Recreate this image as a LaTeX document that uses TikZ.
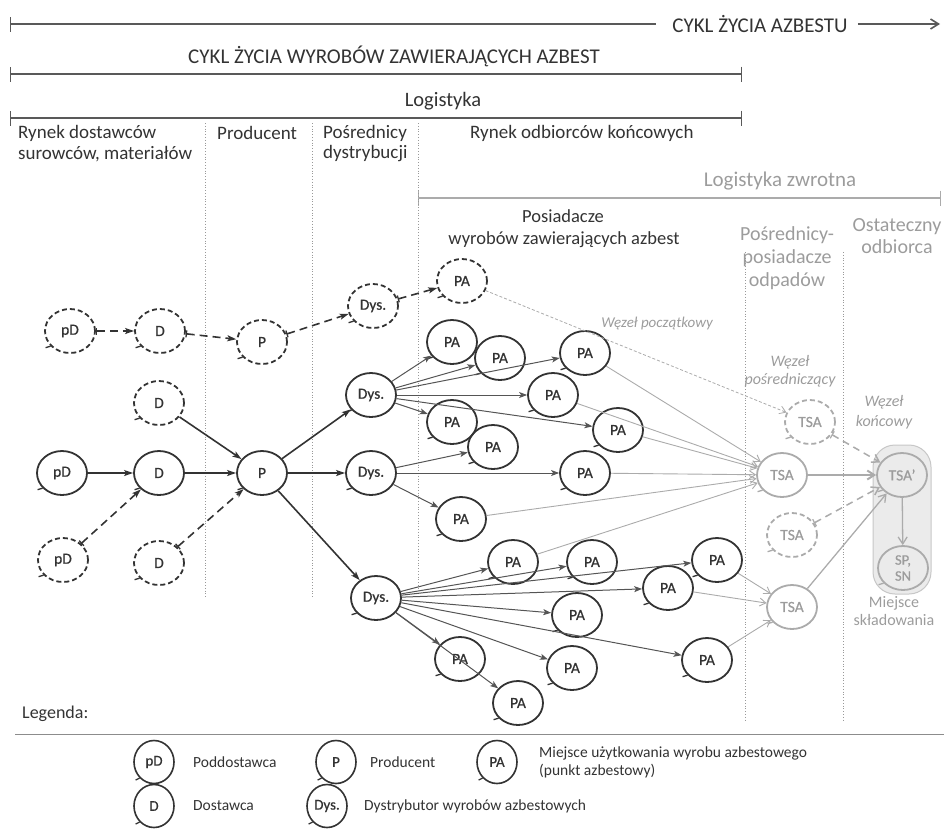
\documentclass[tikz,border=0pt]{standalone}
\usepackage{fontspec}
\setmainfont{Carlito}
\newfontfamily\nodefont{Carlito}[FakeBold=0.6]
\usetikzlibrary{arrows.meta,shapes.geometric}
\definecolor{ink}{HTML}{333333}
\definecolor{edgec}{HTML}{555555}
\definecolor{pale}{HTML}{ABABAB}
\definecolor{paletext}{HTML}{9C9C9C}
\begin{document}
\begin{tikzpicture}[x=1pt,y=-1pt,
  every node/.style={text=ink},
  nd/.style={ellipse,draw=ink,line width=1.8pt,minimum width=50pt,minimum height=44pt,inner sep=0pt,font=\nodefont\fontsize{15.5}{16}\selectfont},
  ndd/.style={nd,dash pattern=on 5pt off 3pt},
  gnd/.style={nd,draw=pale,text=paletext},
  gndd/.style={gnd,dash pattern=on 5pt off 3pt},
  lnd/.style={nd,line width=1.6pt,minimum width=40pt,minimum height=43pt,font=\nodefont\fontsize{15}{15}\selectfont},
  hdr/.style={anchor=west,font=\fontsize{19}{21}\selectfont,inner sep=0pt},
  ttl/.style={font=\fontsize{21}{23}\selectfont,inner sep=0pt},
  gtxt/.style={text=paletext,font=\fontsize{20}{23}\selectfont,inner sep=0pt,align=center},
  wz/.style={text=paletext,font=\fontsize{15}{18}\itshape,inner sep=0pt,align=center},
  lgt/.style={anchor=west,font=\fontsize{15.5}{18}\selectfont,inner sep=0pt,align=left},
  span/.style={draw=black!65,line width=2.2pt,{Bar[width=15pt,line width=1.4pt]}-{Bar[width=15pt,line width=1.4pt]}},
  sep/.style={draw=black!40,line width=0.8pt,dotted},
  thick/.style={draw=ink,line width=1.6pt,-{Stealth[length=9pt,width=6pt,inset=2pt]}},
  thickd/.style={thick,dash pattern=on 8pt off 5pt,{Bar[width=7pt,line width=1.3pt]}-{Stealth[length=9pt,width=6pt,inset=2pt]}},
  mid/.style={draw=edgec,line width=1pt,-{Stealth[length=8pt,width=6pt,inset=2pt]}},
  light/.style={draw=pale,line width=0.9pt,-{Straight Barb[length=6pt,width=8pt]}},
  gthick/.style={draw=pale,line width=2pt,-{Straight Barb[length=7pt,width=9pt]}},
  gthin/.style={draw=pale,line width=1.3pt,-{Straight Barb[length=7pt,width=9pt]}},
  gdash/.style={draw=pale,line width=1.5pt,dash pattern=on 7pt off 5pt,{Bar[width=8pt,line width=1.2pt]}-{Straight Barb[length=7pt,width=9pt]}},
  gdot/.style={draw=pale,line width=0.8pt,dash pattern=on 3pt off 2pt,-{Straight Barb[length=6pt,width=8pt]}}
]
\useasboundingbox (0,0) rectangle (944,830);

% ---- life-cycle spans ----
\draw[draw=black!65,line width=2.2pt,{Bar[width=15pt,line width=1.4pt]}-] (10,24) -- (656,24);
\node[ttl] (cyklA) at (760,24) {CYKL ŻYCIA AZBESTU};
\draw[draw=black!65,line width=1.6pt,-{Straight Barb[length=8pt,width=10pt]}] (cyklA.east) ++(10,0) coordinate (ca) -- (940,24);
\node[ttl] (cyklW) at (394,56) {CYKL ŻYCIA WYROBÓW ZAWIERAJĄCYCH AZBEST};
\draw[span] (10,74) -- (742,74);
\node[ttl,font=\fontsize{20.5}{23}\selectfont] (logi) at (443,101) {Logistyka};
\draw[span] (10,118) -- (742,118);

% ---- column headers ----
\node[hdr] (h1a) at (18,133) {Rynek dostawców};
\node[hdr] (h1b) at (18,154) {surowców, materiałów};
\node[hdr] (h2) at (217,133) {Producent};
\node[hdr] (h3a) at (323,133) {Pośrednicy};
\node[hdr] (h3b) at (323,154) {dystrybucji};
\node[hdr] (h4) at (470,133) {Rynek odbiorców końcowych};

\node[gtxt,font=\fontsize{21}{23}\selectfont] (lz) at (780,181) {Logistyka zwrotna};
\draw[draw=pale,line width=2pt,{Bar[width=15pt,line width=1.4pt]}-{Bar[width=15pt,line width=1.4pt]}] (418,198) -- (941,198);

\node[hdr,anchor=center,font=\fontsize{18.5}{21}\selectfont] (pos1) at (563,216) {Posiadacze};
\node[hdr,anchor=center,font=\fontsize{18.5}{21}\selectfont] (pos2) at (564,240) {wyrobów zawierających azbest};
\node[gtxt] (pp) at (787,258) {Pośrednicy-\\posiadacze\\odpadów};
\node[gtxt,font=\fontsize{20}{22}\selectfont] (oo) at (897,236) {Ostateczny\\odbiorca};

% ---- separators ----
\draw[sep] (205,123) -- (205,597);
\draw[sep] (312,123) -- (312,597);
\draw[sep] (418,123) -- (418,590);
\draw[sep] (745,252) -- (745,720);
\draw[sep] (843,252) -- (843,720);

% ---- storage area ----
\draw[draw=black!22,fill=black!8,line width=1pt,rounded corners=22pt] (873,445) rectangle (931,594);

% ---- supply chain nodes ----
\node[ndd] (pDt) at (70,331) {pD};
\node[ndd] (Dt) at (160,331) {D};
\node[ndd] (Pt) at (262,342) {P};
\node[ndd] (Dyst) at (373,306) {Dys.};
\node[ndd] (PAt) at (462,281) {PA};
\node[ndd] (Dm) at (159,403) {D};
\node[nd] (pD) at (62,473) {pD};
\node[nd] (D) at (159,473) {D};
\node[nd] (P) at (262,473) {P};
\node[ndd] (pDb) at (63,560) {pD};
\node[ndd] (Db) at (159,563) {D};
\node[nd] (Dy1) at (371,395) {Dys.};
\node[nd] (Dy2) at (371,473) {Dys.};
\node[nd] (Dy3) at (376,598) {Dys.};

% ---- points of use ----
\node[nd] (a) at (452,342) {PA};
\node[nd] (b) at (500,358) {PA};
\node[nd] (c) at (585,353) {PA};
\node[nd] (d) at (553,395) {PA};
\node[nd] (e) at (452,422) {PA};
\node[nd] (f) at (618,430) {PA};
\node[nd] (g) at (493,447) {PA};
\node[nd] (h) at (585,473) {PA};
\node[nd] (i) at (461,519) {PA};
\node[nd] (k) at (513,562) {PA};
\node[nd] (l) at (592,562) {PA};
\node[nd] (m) at (717,560) {PA};
\node[nd] (n) at (668,588) {PA};
\node[nd] (o) at (577,615) {PA};
\node[nd] (p) at (460,659) {PA};
\node[nd] (q) at (572,668) {PA};
\node[nd] (r) at (707,660) {PA};
\node[nd] (s) at (518,703) {PA};

% ---- waste chain nodes ----
\node[gndd] (Tt) at (810,422) {TSA};
\node[gnd] (T) at (782,475) {TSA};
\node[gnd] (Tf) at (902,475) {TSA’};
\node[gndd] (Tl) at (792,535) {TSA};
\node[gnd] (Tb) at (792,607) {TSA};
\node[gnd,align=center,font=\nodefont\fontsize{14.5}{16}\selectfont] (S) at (903,568) {SP,\\SN};

% small stroke ends on the circles
\foreach \n in {pDt,Dt,Pt,Dyst,PAt,Dm,pD,D,P,pDb,Db,Dy1,Dy2,Dy3,a,b,c,d,e,f,g,h,i,k,l,m,n,o,p,q,r,s}
  \draw[ink,line width=1.3pt] (\n.218) -- ++(-5,1.5);
\foreach \n in {Tt,T,Tf,Tl,Tb,S}
  \draw[pale,line width=1.3pt] (\n.218) -- ++(-5,1.5);

% ---- supply flows ----
\draw[thick] (pD) -- (D);
\draw[thick] (D) -- (P);
\draw[thick] (Dm) -- (P);
\draw[thick] (P) -- (Dy1);
\draw[thick] (P) -- (Dy2);
\draw[thick] (P) -- (Dy3);
\draw[thickd] (pDt) -- (Dt);
\draw[thickd] (Dt) -- (Pt);
\draw[thickd] (Pt) -- (Dyst);
\draw[thickd] (Dyst) -- (PAt);
\draw[thickd] (pDb) -- (D);
\draw[thickd] (Db) -- (P);

\foreach \t in {a,b,c,d,e,f} \draw[mid] (Dy1) -- (\t);
\foreach \t in {g,h,i} \draw[mid] (Dy2) -- (\t);
\foreach \t in {k,l,m,n,o,p,q,r,s} \draw[mid] (Dy3) -- (\t);

% ---- return flows ----
\foreach \t in {c,d,f,h,i,k} \draw[light] (\t) -- (T);
\foreach \t in {m,n,r} \draw[light] (\t) -- (Tb);
\draw[gdot] (PAt) -- (Tt);
\draw[gthick] (T) -- (Tf);
\draw[gthin] (Tb) -- (Tf);
\draw[gthin] (Tf) -- (S);
\draw[gdash] (Tt) -- (Tf);
\draw[gdash] (Tl) -- (Tf);

\node[wz] (w1) at (657,323) {Węzeł początkowy};
\node[wz,font=\fontsize{16}{18}\itshape] (w2) at (790,371) {Węzeł\\pośredniczący};
\node[wz,font=\fontsize{16}{20}\itshape] (w3) at (884,412) {Węzeł\\końcowy};
\node[gtxt,font=\fontsize{16}{18}\selectfont] (ms) at (894,611) {Miejsce\\składowania};

% ---- legend ----
\node[hdr,font=\fontsize{18}{20}\selectfont] (leg) at (22,714) {Legenda:};
\draw[draw=black!45,line width=2.6pt] (15,735) -- (944,735);
\draw[draw=white,line width=0.6pt] (15,735) -- (944,735);
\node[lnd] (lpD) at (154,762) {pD};
\node[lgt] (tpD) at (193,762) {Poddostawca};
\node[lnd] (lP) at (336,762) {P};
\node[lgt] (tP) at (370,762) {Producent};
\node[lnd] (lPA) at (497,762) {PA};
\node[lgt] (tPA) at (539,762) {Miejsce użytkowania wyrobu azbestowego\\(punkt azbestowy)};
\node[lnd] (lD) at (154,806) {D};
\node[lgt] (tD) at (193,806) {Dostawca};
\node[lnd] (lDy) at (327,806) {Dys.};
\node[lgt] (tDy) at (364,806) {Dystrybutor wyrobów azbestowych};
\foreach \n in {lpD,lP,lPA,lD,lDy}
  \draw[ink,line width=1.2pt] (\n.228) -- ++(-4,2);
\end{tikzpicture}
\end{document}
